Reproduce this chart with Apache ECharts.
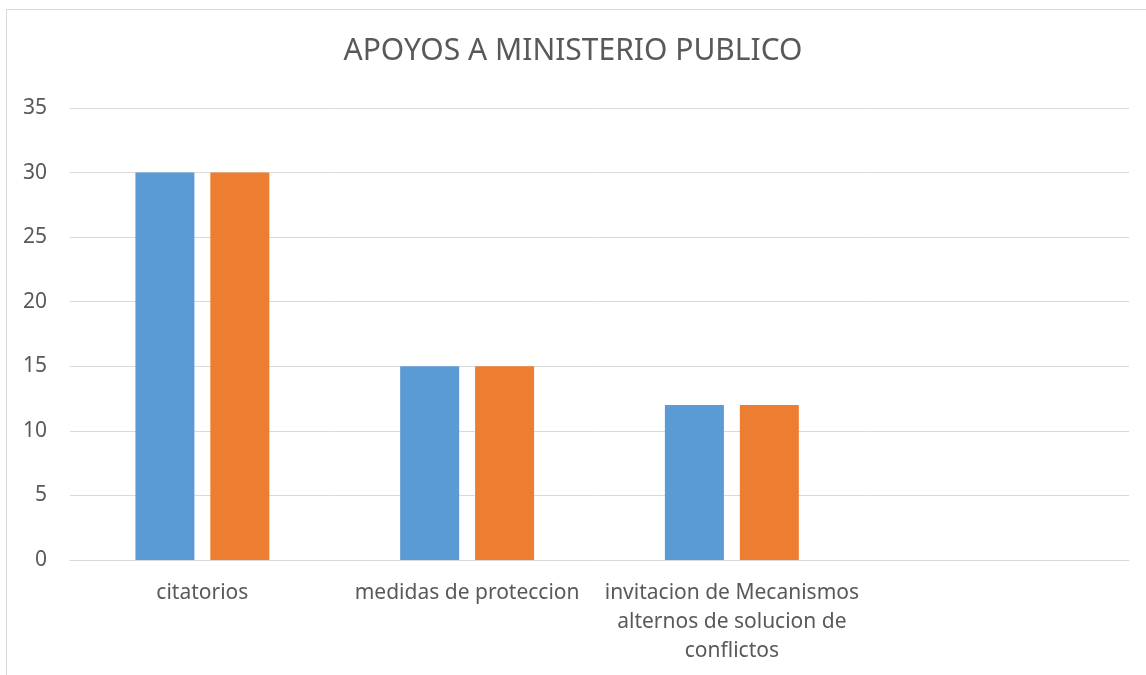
<!DOCTYPE html>
<html lang="es">
<head>
    <meta charset="UTF-8">
    <title>APOYOS A MINISTERIO PUBLICO</title>
    <script src="https://cdn.jsdelivr.net/npm/echarts@6/dist/echarts.min.js"></script>
    <style>
        * { padding: 0; margin: 0; }
        body { background: #fff; }
    </style>
</head>
<body>
<div id="chart" style="width: 1146px; height: 675px;"></div>
<script>
    var categories = ['citatorios', 'medidas de proteccion', 'invitacion de Mecanismos\nalternos de solucion de\nconflictos', ''];
    var serie1 = [30, 15, 12];
    var serie2 = [30, 15, 12];
    var yTicks = { min: 0, max: 35, interval: 5 };

    var chart = echarts.init(document.getElementById('chart'));
    var option = {
        animation: false,
        textStyle: { fontFamily: 'Noto Sans' },
        title: {
            text: 'APOYOS A MINISTERIO PUBLICO',
            left: 'center',
            top: 31,
            textStyle: { color: '#595959', fontSize: 30, fontWeight: 'normal', fontFamily: 'Noto Sans' }
        },
        graphic: [{
            type: 'rect',
            shape: { x: 6.5, y: 9.5, width: 1200, height: 700 },
            style: { fill: 'none', stroke: '#d9d9d9', lineWidth: 1 },
            silent: true
        }],
        grid: { left: 70, right: 17, top: 108, bottom: 115 },
        xAxis: {
            type: 'category',
            data: categories,
            axisLine: { lineStyle: { color: '#d9d9d9', width: 1 } },
            axisTick: { show: false },
            axisLabel: { color: '#595959', fontSize: 21, interval: 0, margin: 19, lineHeight: 29 }
        },
        yAxis: {
            type: 'value',
            min: yTicks.min,
            max: yTicks.max,
            interval: yTicks.interval,
            axisLine: { show: false },
            axisTick: { show: false },
            splitLine: { lineStyle: { color: '#d9d9d9', width: 1 } },
            axisLabel: { color: '#595959', fontSize: 21, margin: 23 }
        },
        series: [{
            name: 'Serie 1',
            type: 'bar',
            data: serie1,
            barWidth: 59,
            barGap: '27%',
            itemStyle: { color: '#5b9bd5' }
        }, {
            name: 'Serie 2',
            type: 'bar',
            data: serie2,
            barWidth: 59,
            itemStyle: { color: '#ed7d31' }
        }]
    };
    chart.setOption(option);
</script>
</body>
</html>
